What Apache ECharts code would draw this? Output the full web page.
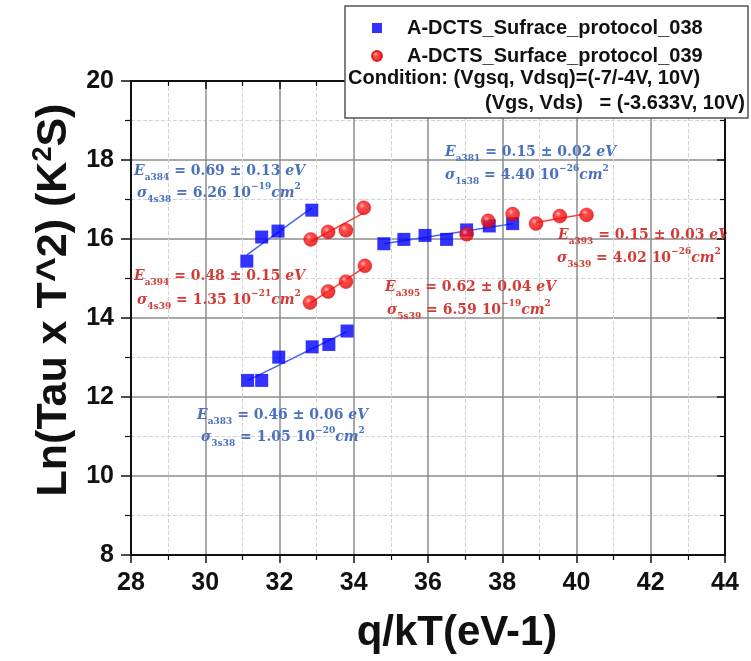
<!DOCTYPE html>
<html>
<head>
<meta charset="utf-8">
<script src="https://cdn.jsdelivr.net/npm/echarts@6/dist/echarts.min.js"></script>
<style>html,body{margin:0;padding:0;background:#fff}#c{width:751px;height:661px}</style>
</head>
<body>
<div id="c"></div>
<script>
// ---- data ----
const xBlueA = [31.12, 31.52, 31.96, 32.87];
const yBlueA = [15.44, 16.05, 16.20, 16.73];
const xBlueB = [31.14, 31.52, 31.98, 32.88, 33.33, 33.82];
const yBlueB = [12.42, 12.42, 13.01, 13.27, 13.33, 13.67];
const xBlueC = [34.81, 35.35, 35.92, 36.50, 37.04, 37.65, 38.28];
const yBlueC = [15.88, 15.99, 16.09, 15.99, 16.23, 16.33, 16.39];
const xRedD = [32.84, 33.31, 33.79, 34.27];
const yRedD = [15.99, 16.18, 16.22, 16.79];
const xRedE = [32.82, 33.31, 33.79, 34.30];
const yRedE = [14.39, 14.67, 14.92, 15.32];
const xRedF = [37.04, 37.62, 38.28];
const yRedF = [16.12, 16.46, 16.63];
const xRedG = [38.91, 39.55, 40.27];
const yRedG = [16.39, 16.58, 16.61];

const seriesNames = ['A-DCTS_Sufrace_protocol_038', 'A-DCTS_Surface_protocol_039'];
const conditionLines = ['Condition: (Vgsq, Vdsq)=(-7/-4V, 10V)', '(Vgs, Vds)   = (-3.633V, 10V)'];
const xTicks = [28, 30, 32, 34, 36, 38, 40, 42, 44];
const yTicks = [8, 10, 12, 14, 16, 18, 20];

// annotation texts: [E subscript, E value, sigma subscript, sigma mantissa, sigma exponent]
const annBlue384 = ['a384', '0.69 ± 0.13', '4s38', '6.26', '−19'];
const annRed394  = ['a394', '0.48 ± 0.15', '4s39', '1.35', '−21'];
const annBlue381 = ['a381', '0.15 ± 0.02', '1s38', '4.40', '−26'];
const annRed393  = ['a393', '0.15 ± 0.03', '3s39', '4.02', '−26'];
const annRed395  = ['a395', '0.62 ± 0.04', '5s39', '6.59', '−19'];
const annBlue383 = ['a383', '0.46 ± 0.06', '3s38', '1.05', '−20'];

// ---- helpers ----
function pairs(xs, ys) { return xs.map((x, i) => [x, ys[i]]); }
function fitLine(xs, ys) {
  const n = xs.length;
  const mx = xs.reduce((a, b) => a + b, 0) / n;
  const my = ys.reduce((a, b) => a + b, 0) / n;
  let sxy = 0, sxx = 0;
  for (let i = 0; i < n; i++) { sxy += (xs[i] - mx) * (ys[i] - my); sxx += (xs[i] - mx) * (xs[i] - mx); }
  const b = sxy / sxx, a = my - b * mx;
  const x0 = Math.min(...xs), x1 = Math.max(...xs);
  return [[x0, a + b * x0], [x1, a + b * x1]];
}

const BLUE = '#0000ff';
const BLUE_LINE = '#4a66f0';
const RED_LINE = '#ff3b3b';
const BLUE_TXT = '#4a70c0';
const RED_TXT = '#d23c36';
const redBall = {
  type: 'radial', x: 0.38, y: 0.35, r: 0.65,
  colorStops: [{offset: 0, color: '#ffa8a8'}, {offset: 0.3, color: '#ff1c1c'}, {offset: 1, color: '#dd0000'}]
};

const chart = echarts.init(document.getElementById('c'), null, {renderer: 'canvas'});

const blueAll = pairs(xBlueA, yBlueA).concat(pairs(xBlueB, yBlueB), pairs(xBlueC, yBlueC));
const redAll = pairs(xRedD, yRedD).concat(pairs(xRedE, yRedE), pairs(xRedF, yRedF), pairs(xRedG, yRedG));

function fitSeries(xs, ys, color) {
  return {
    type: 'line', data: fitLine(xs, ys), showSymbol: false, symbol: 'none', silent: true,
    lineStyle: {color: color, width: 1.5}, z: 3, animation: false
  };
}

const serif = '"DejaVu Serif", serif';
function annRich(color) {
  return {
    it: {fontFamily: serif, fontStyle: 'italic', fontSize: 14, fill: color, lineHeight: 22, fontWeight: 'bold'},
    n: {fontFamily: serif, fontSize: 14, fill: color, lineHeight: 22, fontWeight: 'bold'},
    sub: {fontFamily: serif, fontSize: 9, fill: color, lineHeight: 12, verticalAlign: 'bottom', fontWeight: 'bold'},
    sup: {fontFamily: serif, fontSize: 9, fill: color, lineHeight: 12, verticalAlign: 'top', fontWeight: 'bold'}
  };
}
function annGraphics(ann, color, x, yE, xs, yS) {
  return [
    {type: 'text', x: x, y: yE, z: 50,
     style: {text: '{it|E}{sub|' + ann[0] + '}{n| = ' + ann[1] + ' }{it|eV}', rich: annRich(color), verticalAlign: 'middle'}},
    {type: 'text', x: xs, y: yS, z: 50,
     style: {text: '{it|σ}{sub|' + ann[2] + '}{n| = ' + ann[3] + ' 10}{sup|' + ann[4] + '}{it|cm}{sup|2}', rich: annRich(color), verticalAlign: 'middle'}}
  ];
}

const tickFont = {fontFamily: '"Liberation Sans", Arial, sans-serif', fontWeight: 'bold', fontSize: 25, color: '#111'};
const gridLine = {show: true, lineStyle: {color: '#8c8c8c', width: 1.5, type: 'solid'}};
const minorGrid = {show: true, lineStyle: {color: '#d2d2d2', width: 1, type: 'dashed'}};

const option = {
  animation: false,
  backgroundColor: '#fff',
  grid: {left: 131, right: 26, top: 81, bottom: 106, containLabel: false},
  legend: {
    orient: 'vertical', left: 366, top: 13, itemGap: 8, itemWidth: 10, itemHeight: 10, z: 120,
    data: [{name: seriesNames[0], icon: 'rect'}, {name: seriesNames[1], icon: 'circle'}],
    textStyle: {fontFamily: '"Liberation Sans", Arial, sans-serif', fontWeight: 'bold', fontSize: 20, color: '#111', lineHeight: 20, padding: [0, 0, 0, 20]}
  },
  xAxis: [
    {
      type: 'value', min: 28, max: 44, interval: 2, position: 'bottom',
      name: 'q/kT(eV-1)', nameLocation: 'middle', nameGap: 57,
      nameTextStyle: {fontFamily: '"Liberation Sans", Arial, sans-serif', fontWeight: 'bold', fontSize: 42, color: '#111', padding: [0, 0, 0, 58]},
      axisLine: {show: true, onZero: false, lineStyle: {color: '#111', width: 2}},
      axisTick: {show: true, inside: false, length: 8, lineStyle: {color: '#111', width: 1.5}},
      minorTick: {show: true, splitNumber: 2, length: 5, lineStyle: {color: '#111', width: 1.2}},
      axisLabel: Object.assign({margin: 16}, tickFont),
      splitLine: gridLine,
      minorSplitLine: minorGrid
    },
    {
      type: 'value', min: 28, max: 44, interval: 2, position: 'top',
      axisLine: {show: true, onZero: false, lineStyle: {color: '#111', width: 2}},
      axisTick: {show: true, inside: true, length: 8, lineStyle: {color: '#111', width: 1.5}},
      minorTick: {show: true, splitNumber: 2, length: 5, lineStyle: {color: '#111', width: 1.2}},
      axisLabel: {show: false}, splitLine: {show: false}
    }
  ],
  yAxis: [
    {
      type: 'value', min: 8, max: 20, interval: 2, position: 'left',
      name: '{a|Ln(Tau x T^2) (K}{s|2}{a|S)}', nameLocation: 'middle', nameGap: 45, nameRotate: 90,
      nameTextStyle: {
        padding: [0, 0, 0, 36],
        rich: {
          a: {fontFamily: '"Liberation Sans", Arial, sans-serif', fontWeight: 'bold', fontSize: 43, color: '#111', lineHeight: 48},
          s: {fontFamily: '"Liberation Sans", Arial, sans-serif', fontWeight: 'bold', fontSize: 27, color: '#111', lineHeight: 30, verticalAlign: 'top'}
        }
      },
      axisLine: {show: true, onZero: false, lineStyle: {color: '#111', width: 2}},
      axisTick: {show: true, inside: false, length: 10, lineStyle: {color: '#111', width: 1.5}},
      minorTick: {show: true, splitNumber: 2, length: 6, lineStyle: {color: '#111', width: 1.2}},
      axisLabel: Object.assign({margin: 17}, tickFont),
      splitLine: gridLine,
      minorSplitLine: minorGrid
    },
    {
      type: 'value', min: 8, max: 20, interval: 2, position: 'right',
      axisLine: {show: true, onZero: false, lineStyle: {color: '#111', width: 2}},
      axisTick: {show: true, inside: true, length: 8, lineStyle: {color: '#111', width: 1.5}},
      minorTick: {show: true, splitNumber: 2, length: 5, lineStyle: {color: '#111', width: 1.2}},
      axisLabel: {show: false}, splitLine: {show: false}
    }
  ],
  series: [
    fitSeries(xBlueA, yBlueA, BLUE_LINE),
    fitSeries(xBlueB, yBlueB, BLUE_LINE),
    fitSeries(xBlueC, yBlueC, BLUE_LINE),
    fitSeries(xRedD, yRedD, RED_LINE),
    fitSeries(xRedE, yRedE, RED_LINE),
    fitSeries(xRedG, yRedG, RED_LINE),
    {name: seriesNames[0], type: 'scatter', symbol: 'rect', symbolSize: 13, data: blueAll,
     itemStyle: {color: BLUE}, z: 5},
    {name: seriesNames[1], type: 'scatter', symbol: 'circle', symbolSize: 14, data: redAll,
     itemStyle: {color: redBall, borderColor: '#e00000', borderWidth: 0.5}, z: 6}
  ],
  graphic: [].concat(
    annGraphics(annBlue384, BLUE_TXT, 134, 171, 137, 193),
    annGraphics(annRed394, RED_TXT, 134, 276, 137, 300),
    annGraphics(annBlue381, BLUE_TXT, 445, 152, 445, 175),
    annGraphics(annRed393, RED_TXT, 558, 235, 557, 258),
    annGraphics(annRed395, RED_TXT, 385, 287, 387, 310),
    annGraphics(annBlue383, BLUE_TXT, 197, 415, 201, 437),
    [
      // mask the part of the annotation that runs past the right frame, as in the reference
      {type: 'rect', shape: {x: 727, y: 222, width: 24, height: 50}, z: 60,
       style: {fill: '#fff', stroke: null}},
      {type: 'rect', shape: {x: 345, y: 6, width: 403, height: 112}, z: 100,
       style: {fill: '#fff', stroke: '#555', lineWidth: 1.5}},
      {type: 'text', x: 348, y: 78, z: 110,
       style: {text: conditionLines[0], font: 'bold 20px "Liberation Sans", Arial, sans-serif', fill: '#111', verticalAlign: 'middle'}},
      {type: 'text', x: 745, y: 103, z: 110,
       style: {text: conditionLines[1], font: 'bold 20px "Liberation Sans", Arial, sans-serif', fill: '#111', verticalAlign: 'middle', align: 'right'}}
    ]
  )
};
chart.setOption(option);
</script>
</body>
</html>
